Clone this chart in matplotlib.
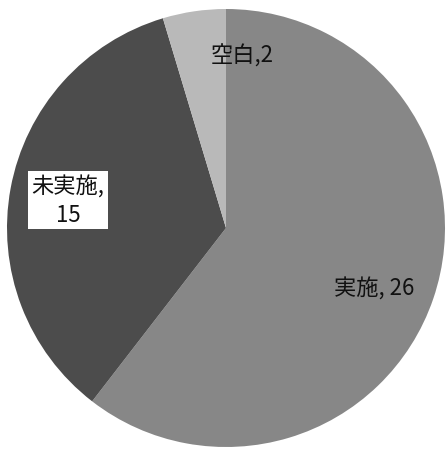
import matplotlib
matplotlib.use('Agg')
import matplotlib.pyplot as plt

labels = ['実施', '未実施', '空白']
values = [26, 15, 2]
colors = ['#878787', '#4c4c4c', '#b9b9b9']

plt.rcParams['font.family'] = ['Noto Sans CJK JP', 'DejaVu Sans']

W, H = 446, 452
fig = plt.figure(figsize=(W / 100, H / 100), dpi=100)
ax = fig.add_axes([0, 0, 1, 1])

# pie drawn in pixel space, clockwise from 12 o'clock
cx, cy, r = 226, H - 229, 219
ax.pie(values, colors=colors, startangle=90, counterclock=False,
       center=(cx, cy), radius=r, frame=True,
       wedgeprops=dict(linewidth=0))
ax.set_xlim(0, W)
ax.set_ylim(0, H)
ax.set_aspect('equal')
ax.axis('off')

# labels
ax.text(374, H - 289, '{}, {}'.format(labels[0], values[0]), fontsize=16,
        ha='center', va='center', color='#111111')
ax.text(68, H - 201, '{},\n{}'.format(labels[1], values[1]), fontsize=16,
        ha='center', va='center', multialignment='center', color='#111111',
        linespacing=1.3, bbox=dict(facecolor='white', edgecolor='none', pad=2.5))
ax.text(242, H - 56, '{},{}'.format(labels[2], values[2]), fontsize=16,
        ha='center', va='center', color='#111111')

plt.savefig('out.png', dpi=100)
